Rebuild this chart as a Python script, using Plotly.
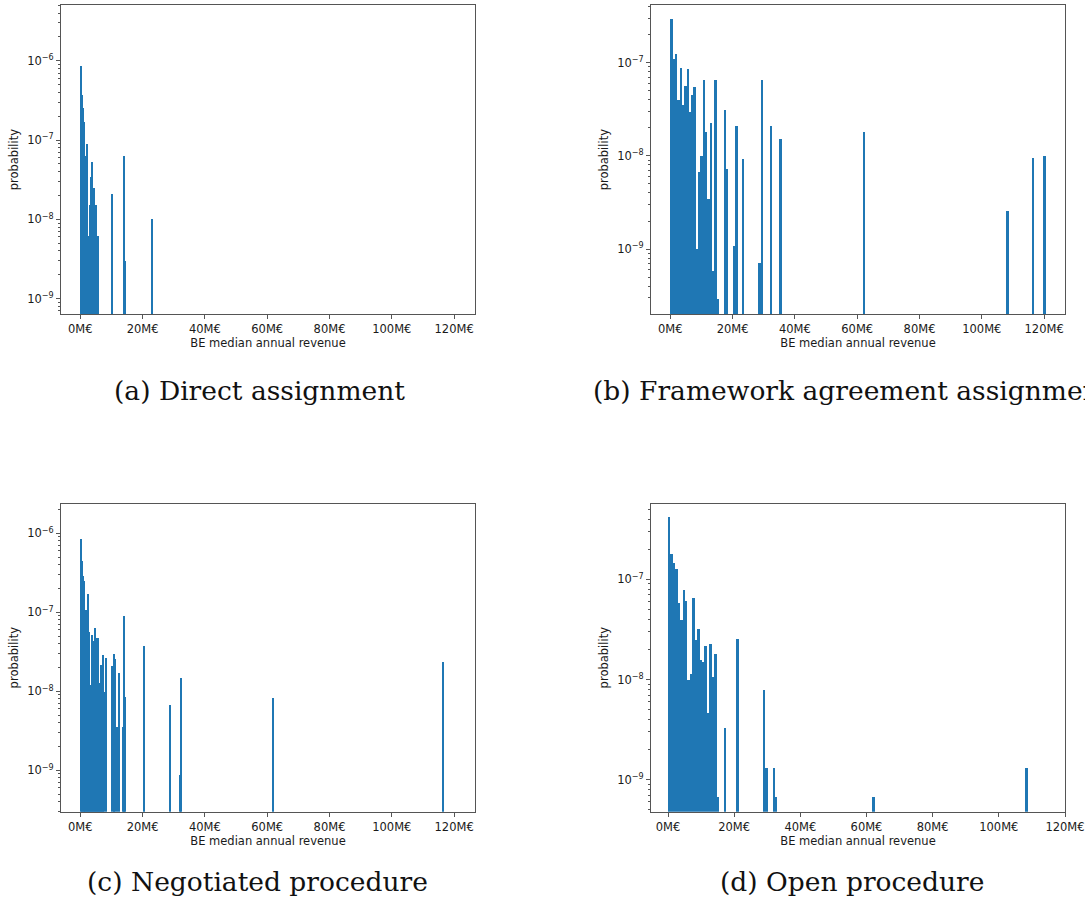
import plotly.graph_objects as go

# ---------------------------------------------------------------------------
# Histogram data: bin index (counted from 0 €), bin width in M€ and the
# probability density (per €) of each non-empty bin.
# ---------------------------------------------------------------------------
direct_bin_width = 0.3
direct_bins = [0, 1, 2, 3, 4, 5, 6, 7, 8, 10, 11, 12, 13, 14, 16, 18,
               33, 46, 47, 76]
direct_prob = [8.6e-7, 3.7e-7, 2.5e-7, 1.7e-7, 3.3e-8, 6.3e-8, 6.1e-8, 8.8e-8,
               6.1e-9, 1.5e-8, 3.4e-8, 5.3e-8, 1.05e-8, 2.5e-8, 1.5e-8, 6.1e-9,
               2.1e-8, 6.2e-8, 3.0e-9, 1.0e-8]

framework_bin_width = 0.744
framework_bins = [0, 1, 2, 3, 4, 5, 6, 7, 8, 9, 10, 11, 12, 13, 14, 15, 16,
                  17, 18, 19, 20, 23, 24, 27, 28, 31, 38, 39, 43, 47, 83,
                  145, 156, 161]
framework_prob = [2.94e-7, 1.1e-7, 1.23e-7, 3.98e-8, 8.7e-8, 3.5e-8, 5.6e-8,
                  8.4e-8, 2.95e-8, 4.5e-8, 5.4e-8, 1.0e-9, 6.7e-9, 1.0e-8,
                  6.4e-8, 1.8e-8, 3.4e-9, 2.24e-8, 5.8e-10, 6.4e-8, 2.9e-10,
                  3.1e-8, 7.1e-9, 1.07e-9, 2.1e-8, 9.3e-9, 7.1e-10, 6.4e-8,
                  2.1e-8, 1.5e-8, 1.8e-8, 2.57e-9, 9.5e-9, 1.0e-8]

negotiated_bin_width = 0.3
negotiated_bins = [0, 1, 2, 3, 4, 5, 6, 7, 8, 9, 10, 11, 12, 13, 14, 15, 16,
                   17, 18, 19, 20, 21, 22, 23, 24, 25, 27, 33, 35, 36, 37,
                   39, 41, 45, 46, 47, 68, 95, 106, 107, 206, 388]
negotiated_prob = [8.6e-7, 4.5e-7, 2.9e-7, 2.5e-7, 1.9e-7, 7.4e-8, 1.07e-7,
                   4.5e-8, 1.7e-7, 5.7e-8, 1.2e-8, 8.7e-9, 5.2e-8, 1.86e-8,
                   4.35e-8, 6.3e-8, 4.8e-8, 1.15e-8, 4.8e-8, 1.4e-8, 1.3e-8,
                   3.6e-9, 2.2e-8, 3.6e-9, 2.9e-8, 1.0e-8, 2.7e-8, 2.1e-8,
                   8.3e-9, 3.0e-8, 2.6e-8, 3.6e-9, 1.74e-8, 3.6e-9, 9.1e-8,
                   8.5e-9, 3.8e-8, 6.8e-9, 8.9e-10, 1.5e-8, 8.3e-9, 2.4e-8]

open_bin_width = 0.735
open_bins = [0, 1, 2, 3, 4, 5, 6, 7, 8, 9, 10, 11, 12, 13, 14, 15, 16, 17,
             18, 19, 20, 23, 28, 39, 40, 43, 44, 84, 147]
open_prob = [4.2e-7, 1.79e-7, 1.48e-7, 1.27e-7, 5.85e-8, 3.93e-8, 7.8e-8,
             6.1e-8, 1.0e-8, 1.15e-8, 6.6e-8, 2.5e-8, 3.24e-8, 1.58e-8,
             1.5e-8, 2.18e-8, 4.7e-9, 2.28e-8, 1.07e-8, 1.8e-8, 6.7e-10,
             3.33e-9, 2.56e-8, 7.9e-9, 1.33e-9, 1.33e-9, 6.7e-10, 6.7e-10,
             1.33e-9]

x_tick_values = [0, 20, 40, 60, 80, 100, 120]
x_tick_labels = [f"{v}M€" for v in x_tick_values]

captions = ["(a) Direct assignment",
            "(b) Framework agreement assignment",
            "(c) Negotiated procedure",
            "(d) Open procedure"]

# ---------------------------------------------------------------------------
W, H = 1085, 909
BLUE = "#1f77b4"
AXIS = "#555555"
TEXT = "#1a1a1a"
SANS = "DejaVu Sans"


def px_x(p):
    return p / W


def px_y(p):
    return 1 - p / H


panels = [
    # bins, probs, bin width, x-domain px, y-domain px (top, bottom), x range, y log range, decades
    (direct_bins, direct_prob, direct_bin_width, (61, 475), (5.3, 314),
     (-6.2, 126.7), (-9.193, -5.30), [-6, -7, -8, -9]),
    (framework_bins, framework_prob, framework_bin_width, (651, 1065), (5.3, 314),
     (-6.2, 126.7), (-9.697, -6.384), [-7, -8, -9]),
    (negotiated_bins, negotiated_prob, negotiated_bin_width, (61, 475), (503.7, 811.7),
     (-6.2, 126.7), (-9.524, -5.625), [-6, -7, -8, -9]),
    (open_bins, open_prob, open_bin_width, (651, 1065), (503.7, 811.7),
     (-5.14, 120.0), (-9.32, -6.245), [-7, -8, -9]),
]

fig = go.Figure()
layout_axes = {}

for i, (bins, probs, bw, xd, yd, xr, yr, decades) in enumerate(panels, start=1):
    suffix = "" if i == 1 else str(i)
    centers = [(b + 0.5) * bw for b in bins]
    fig.add_trace(go.Bar(
        x=centers, y=probs, width=[bw] * len(bins),
        marker=dict(color=BLUE, line=dict(width=0)),
        xaxis="x" + suffix, yaxis="y" + suffix,
        showlegend=False, hoverinfo="x+y",
    ))

    layout_axes["xaxis" + suffix] = dict(
        domain=[px_x(xd[0]), px_x(xd[1])],
        anchor="y" + suffix,
        automargin=False,
        range=list(xr),
        tickvals=x_tick_values, ticktext=x_tick_labels,
        ticks="outside", ticklen=4, tickwidth=1, tickcolor=AXIS,
        showline=True, mirror=True, linecolor=AXIS, linewidth=1,
        showgrid=False, zeroline=False,
        tickfont=dict(family=SANS, size=11.5, color=TEXT),
        title=dict(text="BE median annual revenue", standoff=4,
                   font=dict(family=SANS, size=11.5, color=TEXT)),
    )
    layout_axes["yaxis" + suffix] = dict(
        domain=[px_y(yd[1]), px_y(yd[0])],
        anchor="x" + suffix,
        automargin=False,
        type="log", range=list(yr),
        tickvals=[10 ** d for d in decades],
        ticktext=[f"10<sup>−{-d}</sup>" for d in decades],
        ticks="outside", ticklen=4, tickwidth=1, tickcolor=AXIS,
        minor=dict(ticks="outside", ticklen=2, tickwidth=0.8,
                   tickcolor=AXIS, dtick="D1", showgrid=False),
        showline=True, mirror=True, linecolor=AXIS, linewidth=1,
        showgrid=False, zeroline=False,
        tickfont=dict(family=SANS, size=11.5, color=TEXT),
        title=dict(text="probability", standoff=6,
                   font=dict(family=SANS, size=11.5, color=TEXT)),
    )

caption_pos = [(259, 390), (851.5, 390), (257, 881), (851.5, 881)]
annotations = [
    dict(text=t, x=px_x(cx), y=px_y(cy), xref="paper", yref="paper",
         xanchor="center", yanchor="middle", showarrow=False,
         font=dict(family="DejaVu Serif", size=26.5, color="#111111"))
    for t, (cx, cy) in zip(captions, caption_pos)
]

fig.update_layout(
    width=W, height=H,
    margin=dict(l=0, r=0, t=0, b=0, autoexpand=False),
    paper_bgcolor="white", plot_bgcolor="white",
    bargap=0,
    annotations=annotations,
    **layout_axes,
)

fig.write_html("out.html")
